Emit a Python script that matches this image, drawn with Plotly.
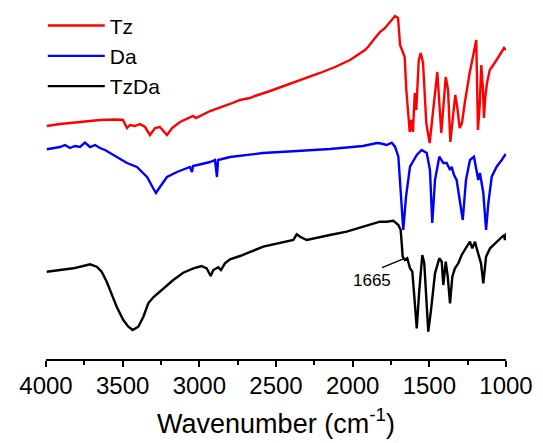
import numpy as np
import plotly.graph_objects as go

# ---------------- data (wavenumber in cm^-1, offset transmittance in a.u.) ----------------
wn_tz = [3995, 3909, 3778, 3648, 3550, 3498, 3472, 3452, 3420, 3387, 3354, 3322, 3289, 3257,
         3211, 3178, 3126, 3061, 3041, 3022, 2930, 2800, 2735, 2670, 2637, 2539, 2409, 2298,
         2213, 2115, 2017, 1920, 1900, 1854, 1822, 1789, 1757, 1724, 1704, 1691, 1678, 1661,
         1650, 1639, 1628, 1618, 1607, 1595, 1585, 1569, 1556, 1541, 1520, 1498, 1476, 1448,
         1422, 1393, 1378, 1363, 1346, 1331, 1318, 1302, 1287, 1269, 1237, 1204, 1194, 1183,
         1172, 1161, 1150, 1144, 1135, 1124, 1106, 1074, 1041, 1013, 1000]
t_tz = [230, 232, 234, 236, 236.5, 236, 228, 231, 230, 232, 229, 221, 228, 229,
        221, 228, 234, 238, 240, 238, 245, 252, 256, 258, 260, 265, 272, 278,
        283, 289, 296, 306, 309, 318, 324, 328, 334, 340, 338, 311, 306, 299,
        266, 239, 224, 236, 224, 263, 246, 296, 303, 293, 233, 213, 243, 284,
        223, 279, 266, 214, 239, 261, 249, 228, 233, 253, 283, 309, 316, 226,
        249, 291, 266, 238, 259, 273, 286, 293, 301, 308, 306]

wn_da = [3995, 3909, 3876, 3844, 3811, 3778, 3746, 3713, 3680, 3648, 3615, 3583, 3472, 3407,
         3341, 3302, 3283, 3257, 3211, 3146, 3080, 3061, 3048, 3041, 2930, 2898, 2885, 2878,
         2800, 2585, 2363, 2148, 1933, 1841, 1822, 1778, 1745, 1724, 1702, 1687, 1670, 1652,
         1626, 1582, 1550, 1517, 1496, 1481, 1463, 1435, 1409, 1387, 1365, 1354, 1339, 1322,
         1305, 1282, 1261, 1235, 1209, 1191, 1181, 1170, 1148, 1130, 1115, 1093, 1061, 1028,
         1007, 1000]
t_da = [206.7, 209, 211, 208, 210, 209, 213.3, 209, 211, 208, 206, 203, 193, 189,
        179, 168, 163, 169, 179, 184, 188, 189, 184, 190, 194, 196, 179, 196,
        199, 203, 205, 207, 210, 213, 212.7, 211, 213.3, 209.3, 199.3, 159.3, 126, 159.3,
        189.3, 201, 206, 203, 186, 133, 176, 199.3, 193, 193, 186, 189.3, 181, 176,
        158, 136, 176, 196, 199.3, 183, 176, 183, 163, 126, 153, 179.3, 189.3, 196,
        201, 200]

wn_tzda = [3995, 3909, 3822, 3757, 3713, 3669, 3637, 3604, 3572, 3539, 3496, 3463, 3435, 3398,
           3365, 3333, 3300, 3235, 3170, 3105, 3039, 2985, 2952, 2926, 2909, 2876, 2859, 2833,
           2800, 2735, 2583, 2387, 2365, 2343, 2300, 2148, 2039, 1931, 1822, 1778, 1735, 1702,
           1687, 1680, 1674, 1659, 1644, 1626, 1611, 1598, 1582, 1567, 1546, 1533, 1517, 1507,
           1489, 1463, 1435, 1419, 1409, 1393, 1380, 1365, 1350, 1333, 1311, 1289, 1256, 1235,
           1220, 1202, 1185, 1163, 1148, 1130, 1104, 1072, 1039, 1013, 1007, 1000]
t_tzda = [84.3, 86, 87.7, 90, 91.7, 89.3, 84.3, 74.3, 62.7, 49.3, 36, 29.3, 26, 29.3,
          39.3, 52.7, 58.7, 67.7, 76, 83.3, 87.7, 90, 87.7, 80, 86, 88.7, 86, 92.7,
          96.7, 100, 109.3, 116, 121.7, 119.3, 116, 121, 124.3, 129.3, 134.3, 134.3, 135.3, 131,
          126, 112.7, 99.3, 96, 97.7, 87.7, 84.3, 59.3, 27.7, 62.7, 101, 92.7, 46, 24.3,
          46, 82.7, 97.7, 94.3, 71, 94.3, 79.3, 52.7, 79.3, 87.7, 92.7, 101, 109.3, 114.3,
          107.7, 114.3, 104.3, 92.7, 72.7, 99.3, 107.7, 112.7, 117.7, 121, 116, 122.7]

series_names = ["Tz", "Da", "TzDa"]
series_colors = ["#FF0000", "#0000FF", "#000000"]

x_ticks = [4000, 3500, 3000, 2500, 2000, 1500, 1000]
x_tick_labels = [str(v) for v in x_ticks]
x_minor_ticks = [3750, 3250, 2750, 2250, 1750, 1250]

peak_label_wn = 1665
peak_label_text = "1665"

FONT = "Liberation Sans, Arial, Helvetica, sans-serif"

fig = go.Figure()
for name, xs, ys, col in zip(series_names, [wn_tz, wn_da, wn_tzda], [t_tz, t_da, t_tzda], series_colors):
    fig.add_trace(go.Scatter(x=xs, y=ys, mode="lines", name=name,
                             line=dict(color=col, width=2.4)))

head_y = float(np.interp(peak_label_wn, wn_tzda[::-1], t_tzda[::-1]))

# leader line (anchored at the band, offsets in pixels) and label for the 1665 band
fig.add_shape(type="line", xref="x", yref="y", xsizemode="pixel", ysizemode="pixel",
              xanchor=peak_label_wn, yanchor=head_y, x0=-22, x1=0, y0=-9, y1=0,
              line=dict(color="black", width=1.5))
fig.add_annotation(x=peak_label_wn, y=head_y, xref="x", yref="y", text=peak_label_text,
                   showarrow=False, xshift=-32, yshift=-22,
                   font=dict(family=FONT, size=17, color="black"))

fig.update_layout(
    width=543, height=443,
    margin=dict(l=46, r=37, t=0, b=84),
    paper_bgcolor="white", plot_bgcolor="white",
    font=dict(family=FONT, color="black"),
    showlegend=True,
    legend=dict(x=-0.007, y=0.985, xanchor="left", yanchor="top",
                font=dict(family=FONT, size=21, color="black"),
                bgcolor="rgba(0,0,0,0)", borderwidth=0, itemwidth=57),
    xaxis=dict(range=[4000, 1000], tickmode="array", tickvals=x_ticks, ticktext=x_tick_labels,
               showline=True, linecolor="black", linewidth=2, mirror=False,
               ticks="outside", ticklen=6, tickwidth=2, tickcolor="black",
               tickfont=dict(family=FONT, size=24, color="black"),
               ticklabelstandoff=-2,
               minor=dict(tickvals=x_minor_ticks, ticks="outside", ticklen=4, tickwidth=2,
                          tickcolor="black", showgrid=False),
               showgrid=False, zeroline=False,
               title=dict(text="Wavenumber (cm<sup>-1</sup>)",
                          font=dict(family=FONT, size=27, color="black"), standoff=16)),
    yaxis=dict(range=[-3, 356], visible=False, showgrid=False, zeroline=False),
)

fig.write_html("out.html")
